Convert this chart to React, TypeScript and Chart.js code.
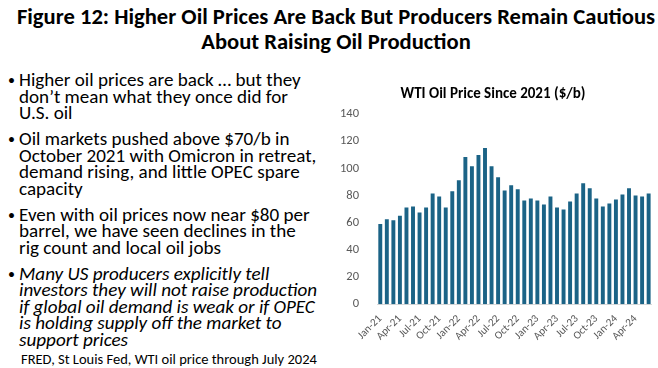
import React, { useEffect, useRef } from "react";
import { Chart, registerables } from "chart.js";

Chart.register(...registerables);

const months: string[] = [
  "Jan-21", "Feb-21", "Mar-21", "Apr-21", "May-21", "Jun-21", "Jul-21", "Aug-21", "Sep-21", "Oct-21", "Nov-21", "Dec-21",
  "Jan-22", "Feb-22", "Mar-22", "Apr-22", "May-22", "Jun-22", "Jul-22", "Aug-22", "Sep-22", "Oct-22", "Nov-22", "Dec-22",
  "Jan-23", "Feb-23", "Mar-23", "Apr-23", "May-23", "Jun-23", "Jul-23", "Aug-23", "Sep-23", "Oct-23", "Nov-23", "Dec-23",
  "Jan-24", "Feb-24", "Mar-24", "Apr-24", "May-24", "Jun-24",
];

const wtiPrice: number[] = [
  59, 62.5, 61.8, 65.2, 71.2, 71.9, 67.5, 71.2, 81.6, 79.4, 71.2, 83.1,
  91.2, 108.3, 101.6, 109.8, 115, 101.6, 93.5, 83.8, 87.5, 84.6, 76.4, 77.9,
  76.4, 73.4, 79.4, 71.2, 69.7, 75.6, 81.6, 89, 85.3, 77.9, 71.9, 74.2,
  77.1, 80.8, 85.3, 80.1, 79.4, 81.6,
];

const yTicks: number[] = [0, 20, 40, 60, 80, 100, 120, 140];

const chartTitle = "WTI Oil Price Since 2021 ($/b)";
const figureTitle1 = "Figure 12: Higher Oil Prices Are Back But Producers Remain Cautious";
const figureTitle2 = "About Raising Oil Production";
const bullets: { lines: string[]; italic: boolean }[] = [
  { lines: ["Higher oil prices are back … but they", "don’t mean what they once did for", "U.S. oil"], italic: false },
  { lines: ["Oil markets pushed above $70/b in", "October 2021 with Omicron in retreat,", "demand rising, and little OPEC spare", "capacity"], italic: false },
  { lines: ["Even with oil prices now near $80 per", "barrel, we have seen declines in the", "rig count and local oil jobs"], italic: false },
  { lines: ["Many US producers explicitly tell", "investors they will not raise production", "if global oil demand is weak or if OPEC", "is holding supply off the market to", "support prices"], italic: true },
];
const sourceText = "FRED, St Louis Fed, WTI oil price through July 2024";

const FONT = "Carlito, Calibri, Lato, sans-serif";

function WtiChart() {
  const ref = useRef<HTMLCanvasElement | null>(null);
  useEffect(() => {
    if (!ref.current) return;
    const chart = new Chart(ref.current, {
      type: "bar",
      data: {
        labels: months,
        datasets: [
          {
            data: wtiPrice,
            backgroundColor: "#1B6386",
            barPercentage: 0.6,
            categoryPercentage: 1,
          },
        ],
      },
      options: {
        animation: false,
        responsive: false,
        maintainAspectRatio: false,
        layout: { padding: { left: 0, right: 2, top: 0, bottom: 0 } },
        plugins: {
          legend: { display: false },
          tooltip: { enabled: false },
          title: {
            display: true,
            text: chartTitle,
            color: "#000000",
            font: { family: FONT, size: 15, weight: "bold" },
            padding: { top: 7, bottom: 11 },
          },
        },
        scales: {
          x: {
            grid: { display: false },
            border: { display: true, color: "#D9D9D9", width: 1 },
            ticks: {
              autoSkip: false,
              maxRotation: 45,
              minRotation: 45,
              color: "#595959",
              font: { family: FONT, size: 11 },
              padding: 0,
              callback: (_v: any, i: number) => (i % 3 === 0 ? months[i] : ""),
            },
          },
          y: {
            min: 0,
            max: 140,
            afterBuildTicks: (axis: any) => {
              axis.ticks = yTicks.map((v) => ({ value: v }));
            },
            grid: { display: false },
            border: { display: false },
            ticks: {
              color: "#595959",
              font: { family: FONT, size: 12.5 },
              padding: 10,
            },
          },
        },
      },
    });
    return () => chart.destroy();
  }, []);
  return <canvas ref={ref} width={328} height={265} style={{ display: "block", width: 328, height: 265 }} />;
}

export default function App() {
  return (
    <div style={{ position: "fixed", left: 0, top: 0, width: 658, height: 368, background: "#fff", overflow: "hidden", fontFamily: FONT }}>
      <div style={{ position: "absolute", left: 0, top: 4, width: 672, textAlign: "center", fontWeight: "bold", fontSize: 22.6, lineHeight: "25px", color: "#000" }}>
        <div style={{ whiteSpace: "nowrap" }}>{figureTitle1}</div>
        <div style={{ whiteSpace: "nowrap" }}>{figureTitle2}</div>
      </div>
      <div style={{ position: "absolute", left: 7, top: 72, width: 330, color: "#000", fontSize: 19.1, lineHeight: "16.5px" }}>
        {bullets.map((b, bi) => (
          <div key={bi} style={{ position: "relative", paddingLeft: 12, marginBottom: 9.5, fontStyle: b.italic ? "italic" : "normal" }}>
            <span style={{ position: "absolute", left: 1, top: 1, fontStyle: "normal", fontSize: 14 }}>•</span>
            {b.lines.map((l, li) => (
              <div key={li} style={{ whiteSpace: "nowrap" }}>{l}</div>
            ))}
          </div>
        ))}
      </div>
      <div style={{ position: "absolute", left: 21, top: 350, fontSize: 14.5, color: "#000", whiteSpace: "nowrap" }}>{sourceText}</div>
      <div style={{ position: "absolute", left: 330, top: 78 }}>
        <WtiChart />
      </div>
    </div>
  );
}
